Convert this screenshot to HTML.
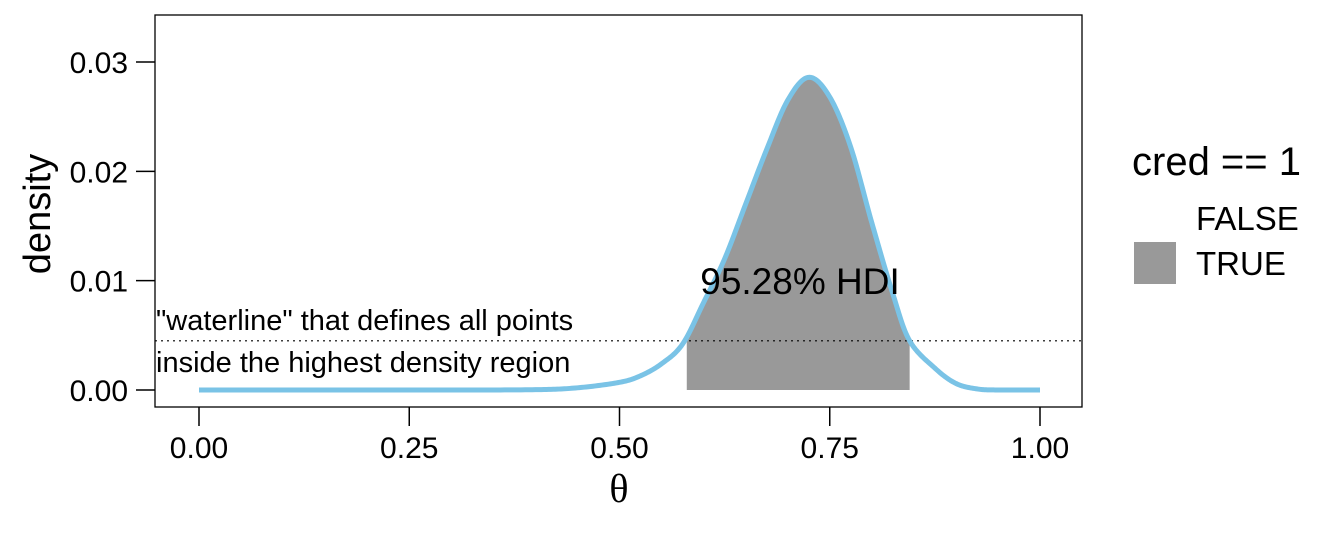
<!DOCTYPE html>
<html><head><meta charset="utf-8"><style>
body{margin:0;background:#fff;}
svg text{font-family:"Liberation Sans",sans-serif;}
</style></head><body>
<svg id="chart" width="1344" height="528" viewBox="0 0 1344 528" xmlns="http://www.w3.org/2000/svg">
<rect width="1344" height="528" fill="#fff"/>
<g id="marks"></g>
<rect x="155" y="15" width="927" height="392" fill="none" stroke="#000" stroke-width="1.3"/>
<g id="axes"></g>
<text x="800" y="294" font-size="37" text-anchor="middle">95.28% HDI</text>
<text x="156" y="330" font-size="29">"waterline" that defines all points</text>
<text x="156" y="372" font-size="29">inside the highest density region</text>
<text x="50" y="214" font-size="38" text-anchor="middle" transform="rotate(-90 50 214)">density</text>
<text x="619" y="502" font-size="40" text-anchor="middle" style="font-family:'Liberation Serif',serif">θ</text>
<g>
<text x="1132" y="175" font-size="40">cred == 1</text>
<text x="1196" y="230" font-size="33">FALSE</text>
<rect x="1134" y="242" width="42" height="42" fill="#999"/>
<text x="1196" y="275" font-size="33">TRUE</text>
</g>
</svg>
<script>
const thetaValues=[0,0.1,0.2,0.3,0.4,0.45,0.5,0.525,0.55,0.575,0.6,0.625,0.65,0.675,0.7,0.725,0.75,0.775,0.8,0.825,0.845,0.875,0.9,0.925,0.95,1.0];
const densityValues=[0,0,0,0,0.00003,0.0002,0.0007,0.0013,0.0024,0.0042,0.0080,0.0120,0.0170,0.0220,0.0265,0.0286,0.0268,0.0222,0.0153,0.0088,0.0045,0.0020,0.0006,0.0001,0,0];
const hdiRange=[0.58,0.845];
const waterline=0.0045;
const xTicks=[0,0.25,0.5,0.75,1];
const xTickLabels=["0.00","0.25","0.50","0.75","1.00"];
const yTicks=[0,0.01,0.02,0.03];
const yTickLabels=["0.00","0.01","0.02","0.03"];

const NS="http://www.w3.org/2000/svg";
const X=v=>199+v*841;
const Y=v=>390-v*10933;
function mk(tag,attrs,parent){const e=document.createElementNS(NS,tag);for(const k in attrs)e.setAttribute(k,attrs[k]);parent.appendChild(e);return e;}
const pts=[];
const n=thetaValues.length;
for(let i=0;i<n-1;i++){
  const p0=i>0?i-1:i,p3=i+2<n?i+2:i+1;
  for(let s=0;s<20;s++){
    const t=s/20;
    const cr=(a,b,c,d)=>0.5*((2*b)+(-a+c)*t+(2*a-5*b+4*c-d)*t*t+(-a+3*b-3*c+d)*t*t*t);
    const x=cr(thetaValues[p0],thetaValues[i],thetaValues[i+1],thetaValues[p3]);
    const y=Math.max(0,cr(densityValues[p0],densityValues[i],densityValues[i+1],densityValues[p3]));
    pts.push([x,y]);
  }
}
pts.push([thetaValues[n-1],densityValues[n-1]]);
const marks=document.getElementById('marks');
const inHdi=pts.filter(p=>p[0]>=hdiRange[0]&&p[0]<=hdiRange[1]);
let fd=`M${X(hdiRange[0])},${Y(0)} `+inHdi.map(p=>`L${X(p[0])},${Y(p[1])}`).join(' ')+` L${X(hdiRange[1])},${Y(0)} Z`;
const area=mk('path',{d:fd,fill:'#999'},marks);


const wl=mk('line',{x1:155,x2:1082,y1:Y(waterline),y2:Y(waterline),stroke:'#000','stroke-width':1.2,'stroke-dasharray':'2 4'},marks);


const line=mk('path',{d:pts.map((p,i)=>(i?'L':'M')+X(p[0])+','+Y(p[1])).join(' '),fill:'none',stroke:'#7ac3e6','stroke-width':5,'stroke-linejoin':'round'},marks);


const axes=document.getElementById('axes');
xTicks.forEach((v,i)=>{
  const t=mk('line',{x1:X(v),x2:X(v),y1:407,y2:426,stroke:'#000','stroke-width':1.5},axes);
  
  
  const l=mk('text',{x:X(v),y:458,'font-size':30,'text-anchor':'middle'},axes);
  l.textContent=xTickLabels[i];
  
  
});
yTicks.forEach((v,i)=>{
  const t=mk('line',{x1:136,x2:155,y1:Y(v),y2:Y(v),stroke:'#000','stroke-width':1.5},axes);
  
  
  const l=mk('text',{x:128,y:Y(v)+11,'font-size':30,'text-anchor':'end'},axes);
  l.textContent=yTickLabels[i];
  
  
});
</script>
</body></html>
